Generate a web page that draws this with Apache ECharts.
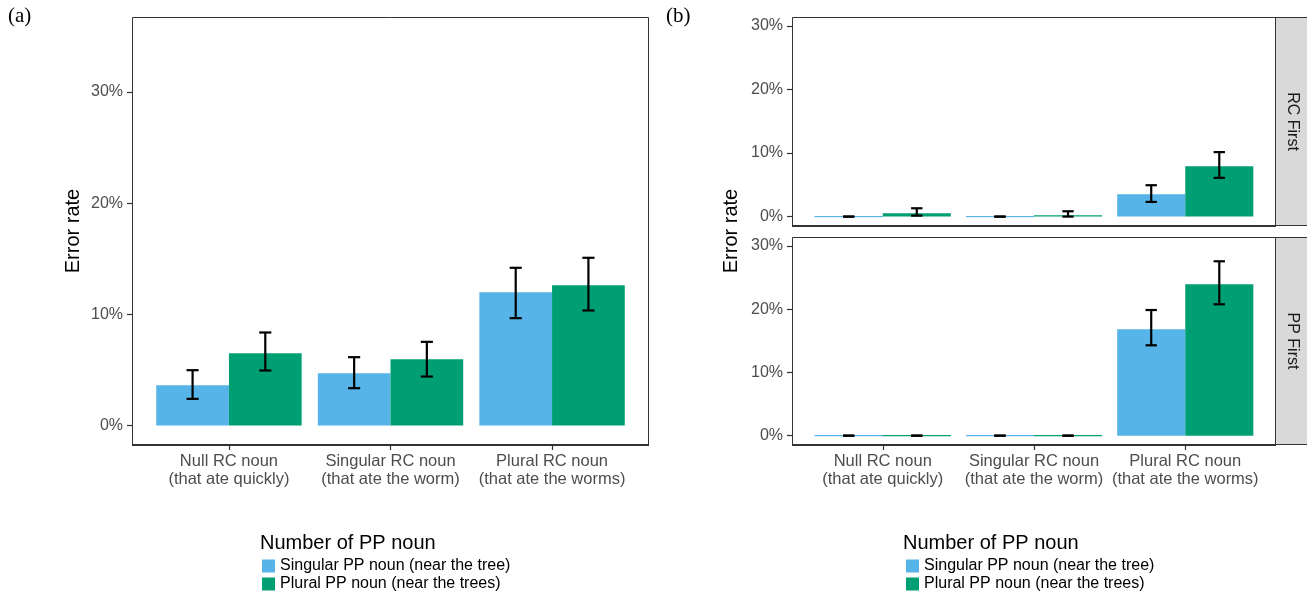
<!DOCTYPE html>
<html>
<head>
<meta charset="utf-8">
<script src="https://cdn.jsdelivr.net/npm/echarts@6/dist/echarts.min.js"></script>
<style>
html,body{margin:0;padding:0;background:#fff;}
#chart{width:1307px;height:594px;}
</style>
</head>
<body>
<div id="chart"></div>
<script>
// ---------- data ----------
const categories = ['Null RC noun\n(that ate quickly)', 'Singular RC noun\n(that ate the worm)', 'Plural RC noun\n(that ate the worms)'];
const seriesNames = ['Singular PP noun (near the tree)', 'Plural PP noun (near the trees)'];
const yTicks = [0, 10, 20, 30];
const legendTitle = 'Number of PP noun';
const facetNames = ['RC First', 'PP First'];

// panel (a): overall
const aSingular     = [3.63, 4.71, 12.00];
const aSingularLow  = [2.40, 3.36, 9.66];
const aSingularHigh = [4.98, 6.15, 14.19];
const aPlural       = [6.51, 5.97, 12.63];
const aPluralLow    = [4.95, 4.41, 10.35];
const aPluralHigh   = [8.37, 7.53, 15.09];

// panel (b): RC First
const rcSingular     = [0, 0, 3.52];
const rcSingularLow  = [0, 0, 2.31];
const rcSingularHigh = [0, 0, 4.94];
const rcPlural       = [0.52, 0.20, 7.94];
const rcPluralLow    = [0.15, 0.00, 6.10];
const rcPluralHigh   = [1.31, 0.84, 10.15];

// panel (b): PP First
const ppSingular     = [0, 0, 16.82];
const ppSingularLow  = [0, 0, 14.29];
const ppSingularHigh = [0, 0, 19.87];
const ppPlural       = [0, 0, 23.94];
const ppPluralLow    = [0, 0, 20.78];
const ppPluralHigh   = [0, 0, 27.58];

// ---------- styling ----------
const colors = ['#56B4E9', '#009E73'];
const FONT = '"Liberation Sans", Arial, Helvetica, sans-serif';
const SERIF = '"Liberation Serif", "Times New Roman", serif';

const chart = echarts.init(document.getElementById('chart'), null, {renderer: 'canvas'});

// panel frames (outer plot rectangles)
const frames = [
  {x: 132, y: 17, w: 517, h: 428},
  {x: 792, y: 17, w: 484, h: 209},
  {x: 792, y: 237, w: 484, h: 208}
];
// ggplot-like discrete expansion: 0.6 band on each side => inner grid is inset by 0.1 band
const inset = frames.map(f => f.w / 32); // band = w/3.2, inset = 0.1*band
const grids = frames.map((f, i) => ({left: f.x + inset[i], top: f.y, width: f.w - 2 * inset[i], height: f.h}));
const yRanges = [[-1.75, 36.75], [-1.48, 31.42], [-1.48, 31.42]];

function xAxisFor(i, showLabels) {
  return {
    type: 'category', gridIndex: i, data: categories,
    axisLine: {show: false, onZero: false},
    axisTick: {show: showLabels, alignWithLabel: true, length: 5, lineStyle: {color: '#333333', width: 1.2}},
    axisLabel: {show: showLabels, margin: 7, fontFamily: FONT, fontSize: 16.5, color: '#4D4D4D', lineHeight: 18, interval: 0},
    splitLine: {show: false}
  };
}
function yAxisFor(i) {
  return {
    type: 'value', gridIndex: i, min: yRanges[i][0], max: yRanges[i][1], offset: inset[i],
    axisLine: {show: false},
    axisTick: {show: true, length: 5, customValues: yTicks, lineStyle: {color: '#333333', width: 1.2}},
    axisLabel: {show: true, margin: 9, customValues: yTicks, fontFamily: FONT, fontSize: 16, color: '#4D4D4D', formatter: v => v + '%'},
    splitLine: {show: false}
  };
}

function barData(vals, color) {
  return vals.map(v => v === 0
    ? {value: v, itemStyle: {borderColor: color, borderWidth: 1}}
    : v);
}
function barSeries(name, vals, gi, color) {
  return {
    name: name, type: 'bar', xAxisIndex: gi, yAxisIndex: gi,
    data: barData(vals, color), barGap: '0%', barCategoryGap: '10%',
    itemStyle: {color: color}, silent: true, animation: false
  };
}
function errSeries(lows, highs, gi, offset) {
  return {
    type: 'custom', xAxisIndex: gi, yAxisIndex: gi, z: 10, silent: true, animation: false,
    data: lows.map((l, k) => [k, l, highs[k]]),
    encode: {x: 0, y: [1, 2]},
    renderItem: function (params, api) {
      const k = api.value(0);
      const band = api.size([1, 0])[0];
      const lo = api.coord([k, api.value(1)]);
      const hi = api.coord([k, api.value(2)]);
      const x = lo[0] + offset * band;
      const cap = band * 0.0375;
      const st = {stroke: '#000', lineWidth: 2.2};
      return {type: 'group', children: [
        {type: 'line', shape: {x1: x, y1: lo[1], x2: x, y2: hi[1]}, style: st},
        {type: 'line', shape: {x1: x - cap, y1: lo[1], x2: x + cap, y2: lo[1]}, style: st},
        {type: 'line', shape: {x1: x - cap, y1: hi[1], x2: x + cap, y2: hi[1]}, style: st}
      ]};
    }
  };
}

const panels = [
  [aSingular, aSingularLow, aSingularHigh, aPlural, aPluralLow, aPluralHigh],
  [rcSingular, rcSingularLow, rcSingularHigh, rcPlural, rcPluralLow, rcPluralHigh],
  [ppSingular, ppSingularLow, ppSingularHigh, ppPlural, ppPluralLow, ppPluralHigh]
];
const series = [];
panels.forEach((p, gi) => {
  series.push(barSeries(seriesNames[0], p[0], gi, colors[0]));
  series.push(barSeries(seriesNames[1], p[3], gi, colors[1]));
  series.push(errSeries(p[1], p[2], gi, -0.225));
  series.push(errSeries(p[4], p[5], gi, 0.225));
});

function legendAt(left) {
  return {
    left: left, top: 558, orient: 'vertical', icon: 'rect', itemWidth: 13, itemHeight: 13,
    itemGap: 2, padding: 0, selectedMode: false, data: seriesNames,
    textStyle: {fontFamily: FONT, fontSize: 16, color: '#000', lineHeight: 16}
  };
}

const graphics = [
  {type: 'text', left: 8, top: 6, style: {text: '(a)', font: '21px ' + SERIF, fill: '#000'}},
  {type: 'text', left: 666, top: 6, style: {text: '(b)', font: '21px ' + SERIF, fill: '#000'}},
  {type: 'text', x: 73, y: 231, rotation: Math.PI / 2, style: {text: 'Error rate', font: '20px ' + FONT, fill: '#000', align: 'center', verticalAlign: 'middle'}},
  {type: 'text', x: 731, y: 231, rotation: Math.PI / 2, style: {text: 'Error rate', font: '20px ' + FONT, fill: '#000', align: 'center', verticalAlign: 'middle'}},
  {type: 'text', x: 260, y: 543, style: {text: legendTitle, font: '20px ' + FONT, fill: '#000', verticalAlign: 'middle'}},
  {type: 'text', x: 903, y: 543, style: {text: legendTitle, font: '20px ' + FONT, fill: '#000', verticalAlign: 'middle'}}
];
// panel borders and bottom axis lines
frames.forEach(f => {
  graphics.push({type: 'rect', shape: {x: f.x + 0.5, y: f.y + 0.5, width: f.w - 1, height: f.h - 1},
    style: {fill: null, stroke: '#333333', lineWidth: 1}, z: 5});
  graphics.push({type: 'line', shape: {x1: f.x, y1: f.y + f.h, x2: f.x + f.w, y2: f.y + f.h},
    style: {stroke: '#333333', lineWidth: 2}, z: 6});
});
// facet strips
[frames[1], frames[2]].forEach((f, i) => {
  graphics.push({type: 'rect', shape: {x: f.x + f.w - 0.5, y: f.y + 0.5, width: 40, height: f.h - 1},
    style: {fill: '#D9D9D9', stroke: '#333333', lineWidth: 1}, z: 4});
  graphics.push({type: 'text', x: 1292, y: f.y + f.h / 2, rotation: -Math.PI / 2,
    style: {text: facetNames[i], font: '16px ' + FONT, fill: '#1A1A1A', align: 'center', verticalAlign: 'middle'}, z: 7});
});

chart.setOption({
  animation: false,
  grid: grids.map(g => Object.assign({show: false, containLabel: false}, g)),
  xAxis: [xAxisFor(0, true), xAxisFor(1, false), xAxisFor(2, true)],
  yAxis: [yAxisFor(0), yAxisFor(1), yAxisFor(2)],
  legend: [legendAt(262), legendAt(906)],
  series: series,
  graphic: graphics
});
</script>
</body>
</html>
